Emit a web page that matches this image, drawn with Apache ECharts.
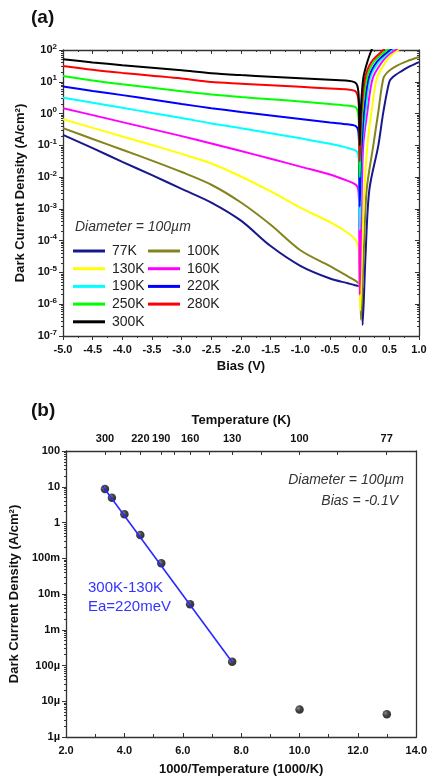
<!DOCTYPE html>
<html>
<head>
<meta charset="utf-8">
<script src="https://cdn.jsdelivr.net/npm/echarts@6/dist/echarts.min.js"></script>
<style>
html, body { margin: 0; padding: 0; background: #fff; }
#chart { width: 430px; height: 781px; }
</style>
</head>
<body>
<div id="chart"></div>
<script>
// (a) dark current vs bias, log10 of J
var biasRev = [-5, -4.5, -4, -3.5, -3, -2.5, -2, -1.5, -1, -0.5, -0.2, -0.08];

var logRev77 = [-0.67, -1.09, -1.52, -1.94, -2.37, -2.80, -3.37, -4.17, -4.79, -5.19, -5.34, -5.40];
var tailV77 = [-0.03, 0.02, 0.045, 0.05, 0.1, 0.163, 0.315, 0.4, 0.5, 0.56, 0.7, 0.85, 1.0];
var tailLog77 = [-5.42, -5.46, -5.5, -6.65, -4.4, -2.4, -1.0, 0.06, 1.0, 1.15, 1.33, 1.49, 1.62];

var logRev100 = [-0.46, -0.80, -1.14, -1.48, -1.84, -2.24, -2.8, -3.5, -4.3, -4.8, -5.12, -5.25];
var tailV100 = [-0.02, 0.015, 0.022, 0.07, 0.118, 0.23, 0.315, 0.4, 0.48, 0.6, 0.8, 1.0];
var tailLog100 = [-5.33, -5.37, -6.49, -4.3, -2.4, -1.0, 0.06, 1.11, 1.32, 1.48, 1.65, 1.78];

var logRev130 = [-0.18, -0.45, -0.72, -0.99, -1.27, -1.57, -1.98, -2.45, -2.96, -3.42, -3.75, -3.95];
var tailV130 = [-0.04, -0.02, -0.01, 0.01, 0.04, 0.08, 0.13, 0.2, 0.29, 0.44, 0.56, 0.68];
var tailLog130 = [-4.08, -4.2, -4.6, -6.2, -4.2, -2.4, -1.0, 0.06, 1.11, 1.63, 1.88, 2.05];

var logRev160 = [0.17, -0.05, -0.27, -0.49, -0.71, -0.94, -1.18, -1.42, -1.67, -1.92, -2.12, -2.22];
var tailV160 = [-0.04, -0.02, -0.01, 0, 0.03, 0.06, 0.13, 0.22, 0.38, 0.5, 0.6, 0.64];
var tailLog160 = [-2.3, -2.45, -2.9, -5.7, -3.0, -1.0, 0.06, 1.11, 1.63, 1.87, 2.0, 2.05];

var logRev190 = [0.50, 0.34, 0.18, 0.02, -0.14, -0.31, -0.46, -0.62, -0.78, -0.95, -1.08, -1.15];
var tailV190 = [-0.04, -0.02, -0.01, 0, 0.02, 0.04, 0.1, 0.175, 0.33, 0.54, 0.58];
var tailLog190 = [-1.22, -1.35, -1.7, -3.66, -2.0, -1.0, 0.06, 1.11, 1.63, 2.0, 2.05];

var logRev220 = [0.85, 0.71, 0.58, 0.44, 0.30, 0.17, 0.05, -0.06, -0.17, -0.28, -0.34, -0.38];
var tailV220 = [-0.04, -0.02, -0.01, 0, 0.02, 0.035, 0.073, 0.15, 0.29, 0.51, 0.55];
var tailLog220 = [-0.45, -0.6, -1.0, -2.93, -1.5, -1.0, 0.06, 1.11, 1.63, 2.0, 2.05];

var logRev250 = [1.18, 1.04, 0.92, 0.81, 0.70, 0.60, 0.52, 0.45, 0.38, 0.30, 0.25, 0.21];
var tailV250 = [-0.04, -0.02, -0.01, 0, 0.015, 0.03, 0.045, 0.12, 0.24, 0.46, 0.5];
var tailLog250 = [0.12, -0.1, -0.5, -2.0, -1.0, -0.5, 0.06, 1.11, 1.63, 2.0, 2.05];

var logRev280 = [1.50, 1.38, 1.28, 1.19, 1.10, 0.99, 0.94, 0.89, 0.84, 0.79, 0.76, 0.71];
var tailV280 = [-0.04, -0.02, -0.01, 0, 0.015, 0.03, 0.09, 0.2, 0.4, 0.45];
var tailLog280 = [0.6, 0.4, 0.0, -1.5, -0.6, 0.06, 1.11, 1.63, 2.0, 2.1];

var logRev300 = [1.71, 1.61, 1.52, 1.44, 1.36, 1.27, 1.21, 1.16, 1.11, 1.06, 1.03, 0.98];
var tailV300 = [-0.04, -0.02, -0.01, 0, 0.01, 0.017, 0.06, 0.13, 0.2, 0.25];
var tailLog300 = [0.88, 0.65, 0.2, -1.0, -0.4, 0.06, 1.11, 1.63, 2.0, 2.2];

var tempNames = ['77K', '100K', '130K', '160K', '190K', '220K', '250K', '280K', '300K'];
var curveColors = ['#18188c', '#84841c', '#ffff00', '#ff00ff', '#00ffff', '#0000ff', '#00ff00', '#ff0000', '#000000'];

// (b) Arrhenius plot
var invTemp = [3.333, 3.571, 4.0, 4.545, 5.263, 6.25, 7.692, 10.0, 12.99];
var darkJ = [8.65, 4.94, 1.69, 0.446, 0.072, 5.2e-3, 1.28e-4, 5.9e-6, 4.3e-6];
var fitX = [3.25, 7.69];
var fitJ = [10.5, 1.25e-4];
var tempTicks = [300, 220, 190, 160, 130, 100, 77];
var tempMinor = [260, 175, 145, 115, 88.5];
var siLabels = ['1µ', '10µ', '100µ', '1m', '10m', '100m', '1', '10', '100'];

var FONT = '"Liberation Sans", Arial, sans-serif';

function pairs(v, lg) {
    return v.map(function (x, i) { return [x, Math.pow(10, lg[i])]; });
}
// minor log ticks, placed on a hidden linear axis in decade units
function logMinor(lo, hi) {
    var out = [];
    for (var e = lo; e < hi; e++) {
        for (var k = 2; k <= 9; k++) out.push(e + Math.log10(k));
    }
    return out;
}

var curves = [
    [logRev77, tailV77, tailLog77],
    [logRev100, tailV100, tailLog100],
    [logRev130, tailV130, tailLog130],
    [logRev160, tailV160, tailLog160],
    [logRev190, tailV190, tailLog190],
    [logRev220, tailV220, tailLog220],
    [logRev250, tailV250, tailLog250],
    [logRev280, tailV280, tailLog280],
    [logRev300, tailV300, tailLog300]
];

var axisLine = {show: true, onZero: false, lineStyle: {color: '#333', width: 1.3}};
var noLine = {show: false, onZero: false};
var labelStyle = {color: '#111', fontSize: 11, fontWeight: 'bold', fontFamily: FONT};
var nameStyle = {color: '#111', fontSize: 13, fontWeight: 'bold', fontFamily: FONT};

var series = curves.map(function (c, i) {
    return {
        name: tempNames[i],
        type: 'line',
        xAxisIndex: 0,
        yAxisIndex: 0,
        symbol: 'none',
        smooth: 0.3,
        color: curveColors[i],
        lineStyle: {width: 2, color: curveColors[i]},
        data: pairs(biasRev.concat(c[1]), c[0].concat(c[2]))
    };
});

series.push({
    type: 'line',
    xAxisIndex: 2,
    yAxisIndex: 4,
    symbol: 'none',
    lineStyle: {color: '#2828ff', width: 1.6},
    data: fitX.map(function (x, i) { return [x, fitJ[i]]; })
});
series.push({
    type: 'scatter',
    xAxisIndex: 2,
    yAxisIndex: 4,
    symbolSize: 8.5,
    itemStyle: {
        color: {
            type: 'radial', x: 0.35, y: 0.35, r: 0.7,
            colorStops: [{offset: 0, color: '#666'}, {offset: 0.5, color: '#111'}, {offset: 1, color: '#000'}]
        }
    },
    data: invTemp.map(function (x, i) { return [x, darkJ[i]]; })
});

var legendBase = {
    orient: 'vertical', top: 244, icon: 'rect',
    itemWidth: 32, itemHeight: 3, itemGap: 3.7, padding: 0,
    textStyle: {fontSize: 14, color: '#222', fontFamily: FONT, padding: [0, 0, 0, 2], lineHeight: 14}
};

var option = {
    animation: false,
    backgroundColor: '#fff',
    title: [
        {text: '(a)', left: 31, top: 8, padding: 0, textStyle: {fontSize: 19, fontWeight: 'bold', color: '#111', fontFamily: FONT}},
        {text: '(b)', left: 31, top: 401, padding: 0, textStyle: {fontSize: 19, fontWeight: 'bold', color: '#111', fontFamily: FONT}}
    ],
    grid: [
        {left: 63, top: 50, width: 356, height: 286},
        {left: 63, top: 451, width: 356, height: 286}
    ],
    legend: [
        Object.assign({data: ['77K', '130K', '190K', '250K', '300K'], left: 73}, legendBase),
        Object.assign({data: ['100K', '160K', '220K', '280K'], left: 148}, legendBase)
    ],
    xAxis: [
        {
            gridIndex: 0, type: 'value', position: 'bottom', min: -5, max: 1, interval: 0.5,
            axisLine: axisLine,
            axisTick: {inside: false, length: 4, lineStyle: {color: '#333'}},
            minorTick: {show: true, splitNumber: 2, length: 2, lineStyle: {color: '#333'}},
            axisLabel: Object.assign({margin: 8, formatter: function (v) { return v.toFixed(1); }}, labelStyle),
            splitLine: {show: false},
            name: 'Bias (V)', nameLocation: 'middle', nameGap: 24, nameTextStyle: nameStyle
        },
        {
            gridIndex: 0, type: 'value', position: 'top', min: -5, max: 1, interval: 0.5,
            axisLine: axisLine,
            axisTick: {inside: true, length: 4, lineStyle: {color: '#333'}},
            minorTick: {show: true, splitNumber: 2, length: 2, lineStyle: {color: '#333'}},
            axisLabel: {show: false},
            splitLine: {show: false}
        },
        {
            gridIndex: 1, type: 'value', position: 'bottom', min: 2, max: 14, interval: 2,
            axisLine: axisLine,
            axisTick: {inside: true, length: 4, lineStyle: {color: '#333'}},
            minorTick: {show: true, splitNumber: 2, length: 3, lineStyle: {color: '#333'}},
            axisLabel: Object.assign({margin: 8, formatter: function (v) { return v.toFixed(1); }}, labelStyle),
            splitLine: {show: false},
            name: '1000/Temperature (1000/K)', nameLocation: 'middle', nameGap: 26, nameTextStyle: nameStyle
        },
        {
            gridIndex: 1, type: 'value', position: 'top', min: 2, max: 14,
            axisLine: axisLine,
            axisTick: {inside: true, length: 4, lineStyle: {color: '#333'},
                customValues: tempTicks.concat(tempMinor).map(function (t) { return 1000 / t; })},
            axisLabel: Object.assign({margin: 7,
                customValues: tempTicks.map(function (t) { return 1000 / t; }),
                formatter: function (v) { return String(Math.round(1000 / v)); }}, labelStyle),
            splitLine: {show: false},
            name: 'Temperature (K)', nameLocation: 'middle', nameGap: 24, nameTextStyle: nameStyle
        }
    ],
    yAxis: [
        {
            gridIndex: 0, type: 'log', logBase: 10, position: 'left', min: 1e-7, max: 100,
            axisLine: axisLine,
            axisTick: {inside: false, length: 4, lineStyle: {color: '#333'}},
            axisLabel: {
                margin: 6,
                formatter: function (v) { return '{b|10}{s|' + Math.round(Math.log10(v)) + '}'; },
                rich: {
                    b: {fontSize: 11, fontWeight: 'bold', color: '#111', fontFamily: FONT},
                    s: {fontSize: 8, fontWeight: 'bold', color: '#111', fontFamily: FONT, padding: [0, 0, 7, 0]}
                }
            },
            splitLine: {show: false},
            name: 'Dark Current Density (A/cm²)', nameLocation: 'middle', nameGap: 33, nameTextStyle: nameStyle
        },
        {
            gridIndex: 0, type: 'log', logBase: 10, position: 'right', min: 1e-7, max: 100,
            axisLine: axisLine,
            axisTick: {inside: true, length: 4, lineStyle: {color: '#333'}},
            axisLabel: {show: false},
            splitLine: {show: false}
        },
        {
            gridIndex: 0, type: 'value', position: 'left', min: -7, max: 2,
            axisLine: noLine,
            axisTick: {inside: false, length: 2, lineStyle: {color: '#333'}, customValues: logMinor(-7, 2)},
            axisLabel: {show: false},
            splitLine: {show: false}
        },
        {
            gridIndex: 0, type: 'value', position: 'right', min: -7, max: 2,
            axisLine: noLine,
            axisTick: {inside: true, length: 2, lineStyle: {color: '#333'}, customValues: logMinor(-7, 2)},
            axisLabel: {show: false},
            splitLine: {show: false}
        },
        {
            gridIndex: 1, type: 'log', logBase: 10, position: 'left', min: 1e-6, max: 100,
            axisLine: axisLine,
            axisTick: {inside: false, length: 4, lineStyle: {color: '#333'}},
            axisLabel: Object.assign({margin: 6, formatter: function (v) {
                return siLabels[Math.round(Math.log10(v)) + 6];
            }}, labelStyle),
            splitLine: {show: false},
            name: 'Dark Current Density (A/cm²)', nameLocation: 'middle', nameGap: 38, nameTextStyle: nameStyle
        },
        {
            gridIndex: 1, type: 'log', logBase: 10, position: 'right', min: 1e-6, max: 100,
            axisLine: axisLine,
            axisTick: {show: false},
            axisLabel: {show: false},
            splitLine: {show: false}
        },
        {
            gridIndex: 1, type: 'value', position: 'left', min: -6, max: 2,
            axisLine: noLine,
            axisTick: {inside: false, length: 2, lineStyle: {color: '#333'}, customValues: logMinor(-6, 2)},
            axisLabel: {show: false},
            splitLine: {show: false}
        }
    ],
    graphic: [
        {type: 'text', style: {x: 75, y: 227, text: 'Diameter = 100µm', fill: '#333',
            font: 'italic 14px ' + FONT, verticalAlign: 'middle'}},
        {type: 'text', style: {x: 404, y: 480, text: 'Diameter = 100µm', fill: '#333', align: 'right',
            font: 'italic 14px ' + FONT, verticalAlign: 'middle'}},
        {type: 'text', style: {x: 398, y: 501, text: 'Bias = -0.1V', fill: '#333', align: 'right',
            font: 'italic 14px ' + FONT, verticalAlign: 'middle'}},
        {type: 'text', style: {x: 88, y: 588, text: '300K-130K', fill: '#3333ff',
            font: '15px ' + FONT, verticalAlign: 'middle'}},
        {type: 'text', style: {x: 88, y: 607, text: 'Ea=220meV', fill: '#3333ff',
            font: '15px ' + FONT, verticalAlign: 'middle'}}
    ],
    series: series
};

var chart = echarts.init(document.getElementById('chart'));
chart.setOption(option);
</script>
</body>
</html>
